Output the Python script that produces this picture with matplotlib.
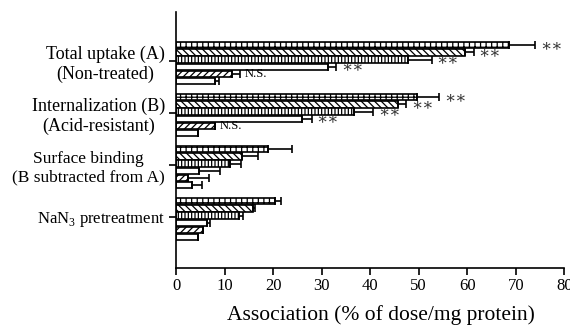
import matplotlib
matplotlib.use("Agg")
import matplotlib.pyplot as plt
import numpy as np

plt.rcParams['font.family'] = ['Liberation Serif', 'DejaVu Serif']
plt.rcParams['mathtext.fontset'] = 'custom'
plt.rcParams['mathtext.rm'] = 'Liberation Serif'
plt.rcParams['hatch.linewidth'] = 0.9

groups = ["Total uptake (A)\n(Non-treated)",
          "Internalization (B)\n(Acid-resistant)",
          "Surface binding\n(B subtracted from A)",
          "NaN$_3$ pretreatment"]

# six series per group (top to bottom inside a group)
values = [
    [68.5, 59.5, 47.8, 31.2, 11.5, 8.0],
    [49.7, 45.8, 36.7, 26.0, 8.0, 4.5],
    [18.9, 13.5, 11.1, 4.7, 2.5, 3.3],
    [20.3, 15.8, 12.9, 6.4, 5.5, 4.5],
]
errors = [
    [5.5, 1.8, 4.9, 1.8, 1.6, 0.8],
    [4.5, 1.6, 3.9, 1.9, 0.0, 0.0],
    [4.9, 3.3, 2.2, 4.3, 4.3, 2.0],
    [1.4, 0.4, 0.8, 0.6, 0.0, 0.0],
]
marks = [
    ["**", "**", "**", "**", "N.S.", ""],
    ["**", "**", "**", "**", "N.S.", ""],
    ["", "", "", "", "", ""],
    ["", "", "", "", "", ""],
]
hatches = ['+++', '\\\\\\\\\\', '|||||', '', '/////', '']
xticks = [0, 10, 20, 30, 40, 50, 60, 70, 80]
xlabel = "Association (% of dose/mg protein)"

fig = plt.figure(figsize=(5.70, 3.26), dpi=100)
ax = fig.add_axes([0.309, 0.178, 0.681, 0.785])

step = 0.1365
h = 0.12
gpos = np.arange(len(groups))
for s in range(6):
    y = gpos + (s - 2.2) * step
    v = [values[g][s] for g in range(len(groups))]
    e = [errors[g][s] for g in range(len(groups))]
    ax.barh(y, v, height=h, color='white', edgecolor='black', linewidth=1.2,
            hatch=hatches[s], zorder=2)
    ax.errorbar(v, y, xerr=[np.zeros(len(e)), e], fmt='none', ecolor='black',
                elinewidth=1.2, capsize=3, capthick=1.2, zorder=3)
    for g in range(len(groups)):
        m = marks[g][s]
        if m == "**":
            ax.text(v[g] + e[g] + 1.0, y[g] + 0.01, "\u2217\u2217", fontsize=12,
                    va='center', ha='left', color='#333333')
        elif m:
            ax.text(v[g] + e[g] + 1.0, y[g] + 0.01, m, fontsize=9,
                    va='center', ha='left')

ax.set_xlim(0, 80)
ax.set_ylim(3.98, -0.94)
ax.set_xticks(xticks)
ax.set_xticklabels([str(t) for t in xticks], fontsize=12)
ax.set_yticks(gpos)
ax.set_yticklabels(groups, fontsize=13, multialignment='center')
labels = ax.get_yticklabels()
labels[2].set_fontsize(12.5)
labels[3].set_fontsize(12)
ax.set_xlabel(xlabel, fontsize=15.5, labelpad=5)
ax.xaxis.set_label_coords(0.527, -0.145)
for sp in ['top', 'right']:
    ax.spines[sp].set_visible(False)
for sp in ['left', 'bottom']:
    ax.spines[sp].set_linewidth(1.2)
ax.tick_params(axis='both', width=1.2, length=5, direction='out')
ax.tick_params(axis='x', pad=2.5)
ax.tick_params(axis='y', pad=3)

fig.savefig("out.png", dpi=100)
